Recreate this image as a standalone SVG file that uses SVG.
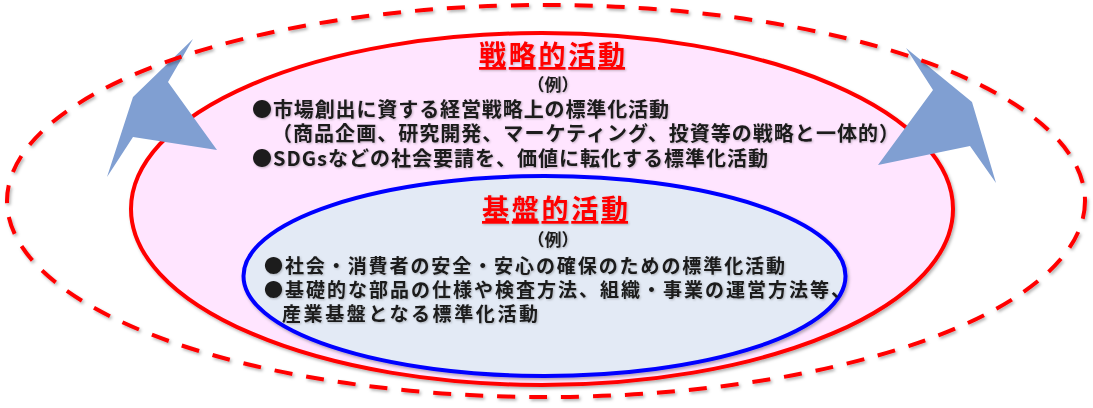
<svg xmlns="http://www.w3.org/2000/svg" width="1093" height="408" viewBox="0 0 1093 408">
<defs>
<filter id="sh" x="-5%" y="-5%" width="110%" height="115%">
<feDropShadow dx="1.5" dy="2" stdDeviation="1.5" flood-color="#000" flood-opacity="0.3"/>
</filter>
<filter id="tsh" x="-2%" y="-20%" width="104%" height="140%">
<feDropShadow dx="1" dy="1" stdDeviation="0.8" flood-color="#000" flood-opacity="0.25"/>
</filter>
</defs>
<style>
.title{font-family:"Noto Sans CJK JP","Noto Sans",sans-serif;font-weight:bold;font-size:27px;fill:#FF0000;text-decoration:underline;}
.ex{font-family:"Noto Sans CJK JP","Noto Sans",sans-serif;font-weight:bold;font-size:17px;fill:#1a1a1a;}
.b1{font-family:"Noto Sans CJK JP","Noto Sans",sans-serif;font-weight:bold;font-size:20px;fill:#1a1a1a;}
.b2{font-family:"Noto Sans CJK JP","Noto Sans",sans-serif;font-weight:bold;font-size:19px;fill:#1a1a1a;}
.arrow{fill:#809FD2;}
</style>
<rect width="1093" height="408" fill="#FFFFFF"/>
<g id="strategic">
<ellipse cx="542" cy="209" rx="411" ry="176" fill="#FFE5FF" stroke="#FF0000" stroke-width="4" filter="url(#sh)"/>
</g>
<g id="foundation">
<ellipse cx="544.5" cy="276" rx="301" ry="100" fill="#E3EAF5" stroke="#0000FF" stroke-width="4" filter="url(#sh)"/>
</g>
<g id="connectors">
<polygon class="arrow" points="193,39 168,82 217,150 133,137 107,177 133,97"/>
<polygon class="arrow" points="906,48 972,102 996,183 970,146 878,165 933,90"/>
</g>
<g id="outer">
<ellipse cx="546" cy="201" rx="539" ry="196" fill="none" stroke="#FF0000" stroke-width="4" stroke-dasharray="18 14" filter="url(#sh)"/>
</g>
<g id="strategic-text" filter="url(#tsh)">
<text class="title" x="552" y="65" text-anchor="middle" textLength="146">戦略的活動</text>
<text class="ex" x="553" y="91" text-anchor="middle">（例）</text>
<text class="b1" x="252" y="117" textLength="417">●市場創出に資する経営戦略上の標準化活動</text>
<text class="b1" x="272" y="141" textLength="627">（商品企画、研究開発、マーケティング、投資等の戦略と一体的）</text>
<text class="b1" x="252" y="166" textLength="516">●SDGsなどの社会要請を、価値に転化する標準化活動</text>
</g>
<g id="foundation-text" filter="url(#tsh)">
<text class="title" x="555" y="219" text-anchor="middle" textLength="146">基盤的活動</text>
<text class="ex" x="553" y="246" text-anchor="middle">（例）</text>
<text class="b2" x="264" y="273" textLength="521">●社会・消費者の安全・安心の確保のための標準化活動</text>
<text class="b2" x="264" y="297" textLength="586">●基礎的な部品の仕様や検査方法、組織・事業の運営方法等、</text>
<text class="b2" x="282" y="321" textLength="256">産業基盤となる標準化活動</text>
</g>
</svg>
